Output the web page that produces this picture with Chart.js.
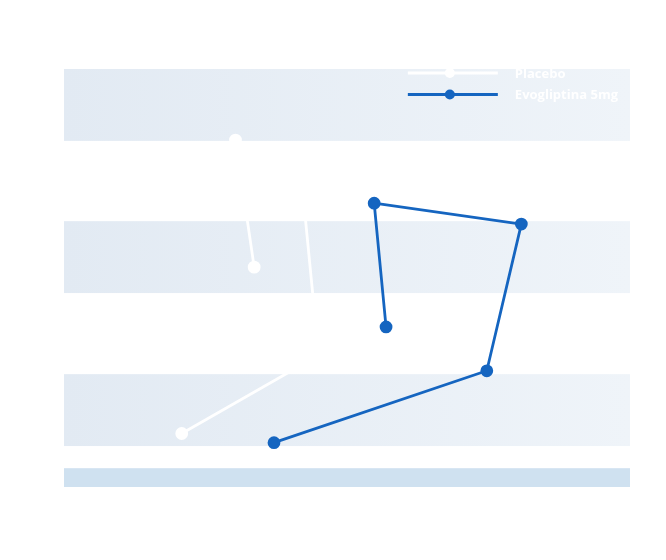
<!DOCTYPE html>
<html>
<head>
<meta charset="utf-8">
<script src="https://cdn.jsdelivr.net/npm/chart.js@4/dist/chart.umd.min.js"></script>
<style>
  html, body { margin: 0; padding: 0; background: #ffffff; }
  #wrap { width: 666px; height: 560px; }
</style>
</head>
<body>
<div id="wrap"><canvas id="chart"></canvas></div>
<script>
// series names
const seriesNames = ["Placebo", "Evogliptina 5mg"]

// point values (x, y), in the order the lines join them
const placeboX = [20.8, 45.0, 41.9, 30.3, 33.6]
const placeboY = [12.8, 31.5, 74.6, 83.0, 52.6]
const evoX = [37.1, 74.7, 80.8, 54.8, 56.9]
const evoY = [10.6, 27.8, 62.9, 67.9, 38.3]

// stripe ranges on the y scale
const stripeLow = [82.8, 46.4, 9.8]
const stripeHigh = [100, 63.6, 27.0]
const baseLow = 0
const baseHigh = 4.5

function toPoints(xs, ys){
    return xs.map((x, i) => ({x: x, y: ys[i]}))
}

const stripes = {
    id: "stripes",
    beforeDatasetsDraw(chart){
        const ctx = chart.ctx
        const area = chart.chartArea
        const y = chart.scales.y
        const grad = ctx.createLinearGradient(area.left, 0, area.right, 0)
        grad.addColorStop(0, "#e2eaf3")
        grad.addColorStop(1, "#eff4f9")
        ctx.save()
        ctx.fillStyle = grad
        for (var i = 0; i < stripeLow.length; i++){
            const top = y.getPixelForValue(stripeHigh[i])
            const bottom = y.getPixelForValue(stripeLow[i])
            ctx.fillRect(area.left, top, area.right - area.left, bottom - top)
        }
        ctx.fillStyle = "#cfe1f0"
        const bt = y.getPixelForValue(baseHigh)
        const bb = y.getPixelForValue(baseLow)
        ctx.fillRect(area.left, bt, area.right - area.left, bb - bt)
        ctx.restore()
    }
}

// legend: line with a dot, label in white bold, top right of the plot
const lineLegend = {
    id: "lineLegend",
    afterDraw(chart){
        const ctx = chart.ctx
        const area = chart.chartArea
        ctx.save()
        ctx.font = "bold 13px 'Open Sans'"
        var maxW = 0
        chart.data.datasets.forEach(ds => { maxW = Math.max(maxW, ctx.measureText(ds.label).width) })
        const lineLen = 90
        const gap = 17
        const x0 = area.right - 12 - maxW - gap - lineLen
        chart.data.datasets.forEach((ds, i) => {
            const yy = area.top + 4 + i * 21.5
            ctx.strokeStyle = ds.borderColor
            ctx.lineWidth = 2.8
            ctx.beginPath()
            ctx.moveTo(x0, yy)
            ctx.lineTo(x0 + lineLen, yy)
            ctx.stroke()
            ctx.fillStyle = ds.backgroundColor
            ctx.beginPath()
            ctx.arc(x0 + lineLen / 2 - 3, yy, 5, 0, Math.PI * 2)
            ctx.fill()
            ctx.fillStyle = "#ffffff"
            ctx.textBaseline = "middle"
            ctx.fillText(ds.label, x0 + lineLen + gap, yy + 1)
        })
        ctx.restore()
    }
}

const chartCtx = document.getElementById("chart")
var chart = new Chart(chartCtx, {
    type: "scatter",
    data: {
        datasets: [{
            label: seriesNames[0],
            data: toPoints(placeboX, placeboY),
            showLine: true,
            borderColor: "#ffffff",
            backgroundColor: "#ffffff",
            borderWidth: 2.8,
            pointRadius: 5,
            pointHoverRadius: 5,
        }, {
            label: seriesNames[1],
            data: toPoints(evoX, evoY),
            showLine: true,
            borderColor: "#1565c0",
            backgroundColor: "#1565c0",
            borderWidth: 2.8,
            pointRadius: 5,
            pointHoverRadius: 5,
        }],
    },
    options: {
        responsive: true,
        maintainAspectRatio: false,
        animation: false,
        layout: {padding: {left: 64, right: 36, top: 69, bottom: 73}},
        scales: {
            x: {display: false, min: 0, max: 100},
            y: {display: false, min: 0, max: 100},
        },
        plugins: {
            legend: {display: false},
            tooltip: {enabled: false},
        },
    },
    plugins: [stripes, lineLegend],
})
</script>
</body>
</html>
